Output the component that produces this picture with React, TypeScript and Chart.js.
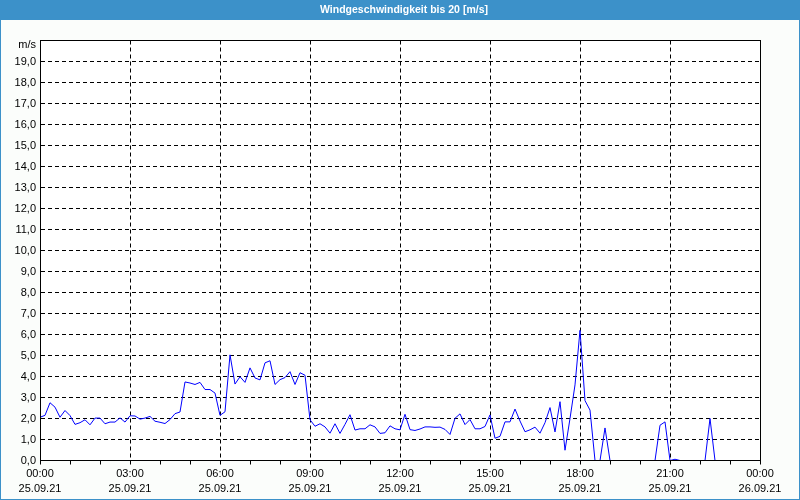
import React, { useEffect, useRef } from "react";
import { Chart, registerables } from "chart.js";

Chart.register(...registerables);

const TITLE = "Windgeschwindigkeit bis 20 [m/s]";
const Y_UNIT = "m/s";

// wind speed [m/s], one value every 10 minutes starting 25.09.21 00:00
const windSpeed = [
  2.06, 2.15, 2.75, 2.54, 2.06, 2.38, 2.14, 1.72, 1.8, 1.94, 1.7, 2.02, 2.02, 1.75, 1.83, 1.83, 2.03, 1.83,
  2.13, 2.12, 1.97, 2.02, 2.1, 1.87, 1.82, 1.76, 1.95, 2.23, 2.31, 3.74, 3.69, 3.62, 3.72, 3.38, 3.38, 3.21,
  2.15, 2.32, 5.03, 3.64, 3.99, 3.72, 4.41, 3.93, 3.84, 4.65, 4.75, 3.62, 3.85, 3.95, 4.23, 3.62, 4.18, 4.06,
  1.94, 1.63, 1.75, 1.6, 1.3, 1.75, 1.29, 1.72, 2.18, 1.45, 1.51, 1.51, 1.7, 1.6, 1.29, 1.32, 1.65, 1.51,
  1.46, 2.2, 1.47, 1.43, 1.5, 1.6, 1.6, 1.58, 1.59, 1.48, 1.24, 2.01, 2.22, 1.71, 1.95, 1.51, 1.51, 1.62,
  2.17, 1.06, 1.15, 1.84, 1.84, 2.45, 1.88, 1.37, 1.46, 1.59, 1.3, 1.8, 2.52, 1.36, 2.8, 0.49, 2.0, 3.6,
  6.2, 2.85, 2.4, 0, 0, 1.55, 0, 0, 0, 0, 0, 0, 0, 0, 0, 0, 1.68, 1.84,
  0, 0.06, 0, 0, 0, 0, 0, 0, 2.0, 0,
];

const tickTimes = ["00:00", "03:00", "06:00", "09:00", "12:00", "15:00", "18:00", "21:00", "00:00"];
const tickDates = ["25.09.21", "25.09.21", "25.09.21", "25.09.21", "25.09.21", "25.09.21", "25.09.21", "25.09.21", "26.09.21"];

const STEPS_PER_HOUR = 6;
const STEPS_PER_TICK = 18;
const Y_MIN = 0;
const Y_MAX = 20;

const FONT = "'Liberation Sans', Arial, sans-serif";
const BLUE = "#3c91c9";

export default function App() {
  const ref = useRef<HTMLCanvasElement>(null);

  useEffect(() => {
    document.body.style.margin = "0";
    const canvas = ref.current!;
    const points = windSpeed.map((v, i) => ({ x: i, y: v }));
    const xMax = (tickTimes.length - 1) * STEPS_PER_TICK;

    const framePlugin = {
      id: "frame",
      beforeDraw(chart: any) {
        const { ctx, width, height, chartArea } = chart;
        ctx.save();
        ctx.fillStyle = "#fbfdfb";
        ctx.fillRect(0, 0, width, height);
        ctx.fillStyle = "#ffffff";
        ctx.fillRect(chartArea.left, chartArea.top, chartArea.right - chartArea.left, chartArea.bottom - chartArea.top);
        ctx.fillStyle = BLUE;
        ctx.fillRect(0, 0, width, 20);
        ctx.strokeStyle = BLUE;
        ctx.lineWidth = 1;
        ctx.strokeRect(0.5, 0.5, width - 1, height - 1);
        ctx.fillStyle = "#ffffff";
        ctx.font = `bold 10.5px ${FONT}`;
        ctx.textAlign = "center";
        ctx.textBaseline = "middle";
        ctx.fillText(TITLE, 404, 10.5);
        ctx.restore();
      },
      afterDatasetsDraw(chart: any) {
        const { ctx, chartArea, scales } = chart;
        const xs = scales.x;
        ctx.save();
        ctx.strokeStyle = "#000";
        ctx.lineWidth = 1;
        ctx.setLineDash([]);
        const l = Math.round(chartArea.left) + 0.5;
        const r = Math.round(chartArea.right) + 0.5;
        const t = Math.floor(chartArea.top) + 0.5;
        const b = Math.floor(chartArea.bottom) + 0.5;
        ctx.strokeRect(l, t, r - l, b - t);
        ctx.beginPath();
        for (let h = 0; h <= 24; h++) {
          const px = Math.round(xs.getPixelForValue(h * STEPS_PER_HOUR)) + 0.5;
          ctx.moveTo(px, b);
          ctx.lineTo(px, b + 4);
        }
        ctx.stroke();
        ctx.fillStyle = "#000";
        ctx.font = `11px ${FONT}`;
        ctx.textAlign = "right";
        ctx.textBaseline = "middle";
        ctx.fillText(Y_UNIT, 36, 45);
        ctx.restore();
      },
    };

    const chart = new Chart(canvas, {
      type: "line",
      data: {
        datasets: [
          {
            data: points,
            borderColor: "#0000ff",
            borderWidth: 1,
            pointRadius: 0,
            tension: 0,
            fill: false,
          },
        ],
      },
      options: {
        responsive: false,
        devicePixelRatio: 1,
        animation: false,
        layout: { padding: { top: 40.5, right: 40, bottom: 0, left: 0 } },
        plugins: {
          legend: { display: false },
          tooltip: { enabled: false },
          title: { display: false },
        },
        scales: {
          x: {
            type: "linear",
            min: 0,
            max: xMax,
            afterFit: (s: any) => {
              s.height = 39.5;
            },
            grid: { color: "#000", lineWidth: 1, drawTicks: false },
            border: { display: true, color: "#000", dash: [4, 3] },
            ticks: {
              stepSize: STEPS_PER_TICK,
              autoSkip: false,
              maxRotation: 0,
              minRotation: 0,
              padding: 6,
              color: "#000",
              font: { family: FONT, size: 11, lineHeight: 15 / 11 },
              callback: (v: any) => {
                const i = Math.round(Number(v) / STEPS_PER_TICK);
                return [tickTimes[i], tickDates[i]];
              },
            },
          },
          y: {
            type: "linear",
            min: Y_MIN,
            max: Y_MAX,
            afterFit: (s: any) => {
              s.width = 40;
            },
            grid: { color: "#000", lineWidth: 1, drawTicks: false },
            border: { display: true, color: "#000", dash: [4, 3] },
            ticks: {
              stepSize: 1,
              autoSkip: false,
              padding: 4,
              color: "#000",
              font: { family: FONT, size: 11 },
              callback: (v: any) => (Number(v) === Y_MAX ? "" : Number(v).toFixed(1).replace(".", ",")),
            },
          },
        },
      },
      plugins: [framePlugin],
    } as any);

    return () => chart.destroy();
  }, []);

  return (
    <div style={{ width: 800, height: 500 }}>
      <canvas ref={ref} width={800} height={500} style={{ display: "block", width: 800, height: 500 }} />
    </div>
  );
}
